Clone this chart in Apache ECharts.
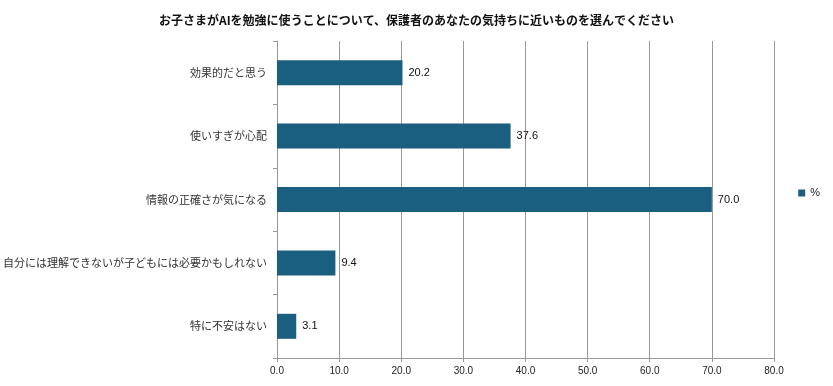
<!DOCTYPE html>
<html><head><meta charset="utf-8">
<script src="https://cdn.jsdelivr.net/npm/echarts@6/dist/echarts.min.js"></script>
<style>html,body{margin:0;padding:0;background:#fff}#c{width:833px;height:386px}</style>
</head><body><div id="c"></div>
<script>
const titleText = 'お子さまがAIを勉強に使うことについて、保護者のあなたの気持ちに近いものを選んでください';
const categories = ['効果的だと思う','使いすぎが心配','情報の正確さが気になる','自分には理解できないが子どもには必要かもしれない','特に不安はない'];
const values = [20.2, 37.6, 70.0, 9.4, 3.1];
const seriesName = '%';
const font = '"Noto Sans CJK JP", "Liberation Sans", sans-serif';
const numFont = '"Liberation Sans", Arial, sans-serif';
const chart = echarts.init(document.getElementById('c'));
chart.setOption({
  animation:false,
  backgroundColor:'#fff',
  title:{text:titleText,left:'center',top:9,textStyle:{fontSize:12,fontWeight:'bold',color:'#111',fontFamily:font}},
  legend:{data:[seriesName],right:8,top:'middle',orient:'vertical',icon:'rect',itemWidth:7,itemHeight:7,itemGap:4,
    textStyle:{fontSize:11,color:'#222',fontFamily:numFont}},
  grid:{left:275,right:59,top:41,bottom:28,containLabel:false},
  xAxis:{type:'value',min:0,max:80,interval:10,
    axisLine:{show:true,lineStyle:{color:'#999'}},
    axisTick:{show:true,length:4,lineStyle:{color:'#999'}},
    axisLabel:{formatter:v=>v.toFixed(1),fontSize:10,color:'#222',fontFamily:numFont,margin:8},
    splitLine:{show:true,lineStyle:{color:'#999',width:1}}},
  yAxis:{type:'category',data:categories,inverse:true,
    axisLine:{show:true,lineStyle:{color:'#999'}},
    axisTick:{show:true,length:4,lineStyle:{color:'#999'}},
    axisLabel:{fontSize:11,color:'#333',fontFamily:font,margin:10}},
  series:[{name:seriesName,type:'bar',data:values,barWidth:25,
    itemStyle:{color:'#1a5e80'},
    label:{show:true,position:'right',distance:6,formatter:p=>p.value.toFixed(1),fontSize:11,color:'#111',fontFamily:numFont}}]
});
</script></body></html>
